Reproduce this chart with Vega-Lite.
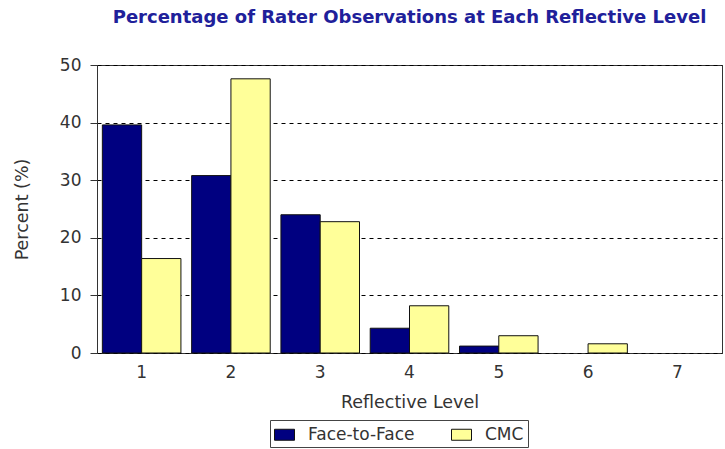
{
  "$schema": "https://vega.github.io/schema/vega-lite/v6.json",
  "autosize": {"type": "none"},
  "width": 625,
  "height": 288,
  "padding": {"left": 97, "top": 65, "right": 3, "bottom": 96},
  "background": "white",
  "title": {
    "text": "Percentage of Rater Observations at Each Reflective Level",
    "font": "DejaVu Sans",
    "fontSize": 18,
    "fontWeight": "bold",
    "color": "#20209a",
    "anchor": "middle",
    "offset": 29
  },
  "data": {
    "values": [
      {"level": "1", "group": "Face-to-Face", "percent": 39.6},
      {"level": "1", "group": "CMC", "percent": 16.4},
      {"level": "2", "group": "Face-to-Face", "percent": 30.8},
      {"level": "2", "group": "CMC", "percent": 47.6},
      {"level": "3", "group": "Face-to-Face", "percent": 24.0},
      {"level": "3", "group": "CMC", "percent": 22.8},
      {"level": "4", "group": "Face-to-Face", "percent": 4.3},
      {"level": "4", "group": "CMC", "percent": 8.2},
      {"level": "5", "group": "Face-to-Face", "percent": 1.2},
      {"level": "5", "group": "CMC", "percent": 3.0},
      {"level": "6", "group": "CMC", "percent": 1.6}
    ]
  },
  "mark": {"type": "bar", "stroke": "#111", "strokeWidth": 1},
  "encoding": {
    "x": {
      "field": "level",
      "type": "nominal",
      "scale": {"domain": ["1", "2", "3", "4", "5", "6", "7"], "paddingInner": 0.12, "paddingOuter": 0.06},
      "axis": {
        "title": "Reflective Level",
        "labelAngle": 0,
        "ticks": false,
        "domain": false,
        "labelPadding": 11,
        "titlePadding": 13
      }
    },
    "xOffset": {
      "field": "group",
      "type": "nominal",
      "scale": {"domain": ["Face-to-Face", "CMC"], "paddingInner": 0, "paddingOuter": 0}
    },
    "y": {
      "field": "percent",
      "type": "quantitative",
      "scale": {"domain": [0, 50], "nice": false},
      "axis": {
        "title": "Percent (%)",
        "values": [0, 10, 20, 30, 40, 50],
        "tickSize": 7,
        "labelPadding": 9,
        "titlePadding": 28,
        "gridDash": [4, 4],
        "gridColor": "#000",
        "gridWidth": 1
      }
    },
    "color": {
      "field": "group",
      "type": "nominal",
      "scale": {"domain": ["Face-to-Face", "CMC"], "range": ["#000080", "#ffff99"]},
      "legend": {
        "title": null,
        "orient": "none",
        "legendX": 173,
        "legendY": 355,
        "direction": "horizontal",
        "symbolType": "M-1,-0.55H1V0.55H-1Z",
        "symbolSize": 400,
        "symbolStrokeColor": "#111",
        "symbolStrokeWidth": 1,
        "symbolOpacity": 1,
        "labelFontSize": 17,
        "labelFont": "DejaVu Sans",
        "labelColor": "#333",
        "columnPadding": 34,
        "labelOffset": 13,
        "strokeColor": "#444",
        "padding": 4
      }
    }
  },
  "config": {
    "view": {"stroke": "#333", "strokeWidth": 1},
    "axis": {
      "labelFont": "DejaVu Sans",
      "labelFontSize": 17,
      "labelColor": "#333",
      "titleFont": "DejaVu Sans",
      "titleFontSize": 17.5,
      "titleFontWeight": "normal",
      "titleColor": "#333",
      "domainColor": "#333",
      "tickColor": "#333"
    },
    "axisX": {"grid": false},
    "axisY": {"grid": true, "domain": true}
  }
}
